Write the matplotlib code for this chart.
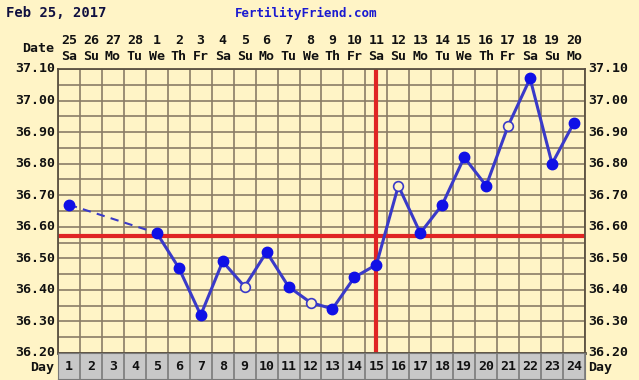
import numpy as np
import matplotlib.pyplot as plt

# datos del grafico
dias = list(range(1, 25))
fechas = ['25', '26', '27', '28', '1', '2', '3', '4', '5', '6', '7', '8',
          '9', '10', '11', '12', '13', '14', '15', '16', '17', '18', '19', '20']
semana = ['Sa', 'Su', 'Mo', 'Tu', 'We', 'Th', 'Fr', 'Sa', 'Su', 'Mo', 'Tu', 'We',
          'Th', 'Fr', 'Sa', 'Su', 'Mo', 'Tu', 'We', 'Th', 'Fr', 'Sa', 'Su', 'Mo']
temp_dias = [1, 5, 6, 7, 8, 9, 10, 11, 12, 13, 14, 15, 16, 17, 18, 19, 20, 21, 22, 23, 24]
temps = [36.67, 36.58, 36.47, 36.32, 36.49, 36.41, 36.52, 36.41, 36.36, 36.34, 36.44,
         36.48, 36.73, 36.58, 36.67, 36.82, 36.73, 36.92, 37.07, 36.80, 36.93]
huecos = [9, 12, 16, 21]
coverline = 36.57
ovulacion = 15
yticks = [36.20, 36.30, 36.40, 36.50, 36.60, 36.70, 36.80, 36.90, 37.00, 37.10]

fondo = '#fff4c6'
rejilla = '#8a7c66'
azul = '#3a3ac8'
rojo = '#e02424'
fuente = 'DejaVu Sans Mono'
tam = 9.5

W, H = 639, 380
fig = plt.figure(figsize=(W / 100, H / 100), dpi=100)
fig.patch.set_facecolor(fondo)

x0, x1 = 58, 585
y0, y1 = 69, 353
ax = fig.add_axes([x0 / W, 1 - y1 / H, (x1 - x0) / W, (y1 - y0) / H])
ax.set_facecolor(fondo)
ax.set_xlim(0.5, 24.5)
ax.set_ylim(36.20, 37.10)

for k in range(25):
    ax.axvline(k + 0.5, color=rejilla, lw=1.2, zorder=1)
for v in np.arange(36.20, 37.101, 0.05):
    ax.axhline(v, color=rejilla, lw=1.2, zorder=1)

ax.axhline(coverline, color=rojo, lw=3, zorder=2)
ax.axvline(ovulacion, color=rojo, lw=3, zorder=2)

# tramo punteado (dias sin datos) y tramo continuo
ax.plot(temp_dias[:2], temps[:2], color=azul, lw=1.5, ls=(0, (4, 3)), zorder=3)
ax.plot(temp_dias[1:], temps[1:], color=azul, lw=2.2, zorder=3)
for d, t in zip(temp_dias, temps):
    if d in huecos:
        ax.plot(d, t, 'o', ms=7, mfc=fondo, mec=azul, mew=1.2, zorder=4)
    else:
        ax.plot(d, t, 'o', ms=7.5, color='#1010e6', zorder=4)

ax.set_xticks([])
ax.set_yticks([])
for s in ax.spines.values():
    s.set_color('#5a5040')
    s.set_linewidth(1.3)
ax.spines['bottom'].set_linewidth(2)

for v in yticks:
    y = 1 - (y0 + (37.10 - v) / 0.9 * (y1 - y0)) / H
    fig.text(55 / W, y, '%.2f' % v, ha='right', va='center', fontsize=tam,
             fontweight='bold', family=fuente, color='#111111')
    fig.text(588 / W, y, '%.2f' % v, ha='left', va='center', fontsize=tam,
             fontweight='bold', family=fuente, color='#111111')

# cabecera
fig.text(6 / W, 1 - 13 / H, 'Feb 25, 2017', ha='left', va='center', fontsize=10,
         fontweight='bold', family=fuente, color='#101040')
fig.text(306 / W, 1 - 13 / H, 'FertilityFriend.com', ha='center', va='center',
         fontsize=9, fontweight='bold', family=fuente, color='#1a1ad0')
fig.text(54 / W, 1 - 48 / H, 'Date', ha='right', va='center', fontsize=tam,
         fontweight='bold', family=fuente, color='#111111')
for i, d in enumerate(dias):
    xf = (x0 + (i + 0.5) * (x1 - x0) / 24) / W
    fig.text(xf, 1 - 40 / H, fechas[i], ha='center', va='center', fontsize=tam,
             fontweight='bold', family=fuente, color='#111111')
    fig.text(xf, 1 - 57 / H, semana[i], ha='center', va='center', fontsize=tam,
             fontweight='bold', family=fuente, color='#111111')

# fila de dias
ax2 = fig.add_axes([x0 / W, 1 - 379 / H, (x1 - x0) / W, (379 - y1) / H])
ax2.set_facecolor('#c8c8c8')
ax2.set_xlim(0.5, 24.5)
ax2.set_ylim(0, 1)
for k in range(25):
    ax2.axvline(k + 0.5, color='#7a7a7a', lw=1.2)
for d in dias:
    ax2.text(d, 0.5, str(d), ha='center', va='center', fontsize=tam,
             fontweight='bold', family=fuente, color='#111111')
ax2.set_xticks([])
ax2.set_yticks([])
for s in ax2.spines.values():
    s.set_color('#7a7a7a')
fig.text(54 / W, 1 - 368 / H, 'Day', ha='right', va='center', fontsize=tam,
         fontweight='bold', family=fuente, color='#111111')
fig.text(588 / W, 1 - 368 / H, 'Day', ha='left', va='center', fontsize=tam,
         fontweight='bold', family=fuente, color='#111111')

fig.savefig('out.png', dpi=100, facecolor=fondo)
